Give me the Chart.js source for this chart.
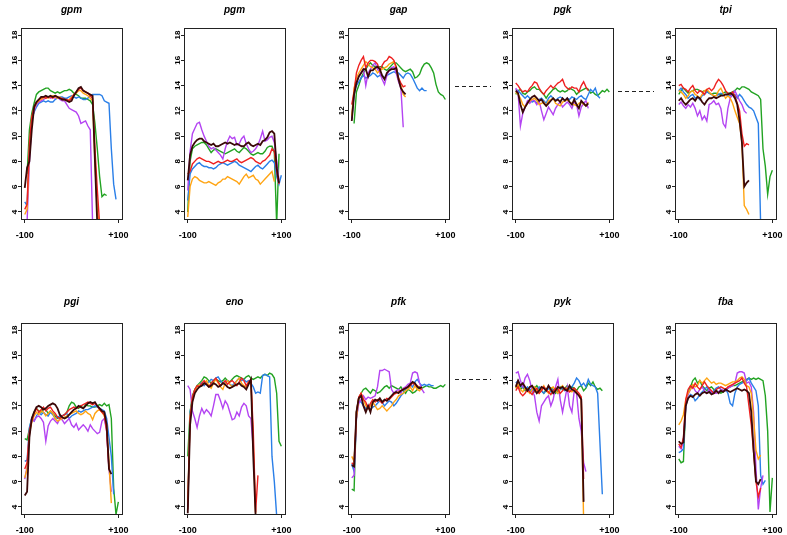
<!DOCTYPE html>
<html lang="en">
<head>
<meta charset="UTF-8">
<title>Profiles around glycolytic genes</title>
<style>
  html, body { margin: 0; padding: 0; background: #fff; overflow: hidden; }
  body { width: 787px; height: 535px; position: relative; }
  canvas { position: absolute; }
</style>
</head>
<body>
<script src="https://cdn.jsdelivr.net/npm/chart.js@4.4.0/dist/chart.umd.min.js"></script>
<script>
// distance from the gene, one value every 5 positions
const xs = [-100, -95, -90, -85, -80, -75, -70, -65, -60, -55, -50, -45, -40, -35, -30, -25, -20, -15, -10, -5,
            0, 5, 10, 15, 20, 25, 30, 35, 40, 45, 50, 55, 60, 65, 70, 75, 80, 85, 90, 95, 100];
const xTicks = [-100, 100];
const yTicks = [4, 6, 8, 10, 12, 14, 16, 18];

// k = black, r = red, o = orange, p = purple, b = blue, g = green
const gpm = {
  k: [5.9, 7.5, 8.0, 10.5, 12.3, 12.7, 12.9, 13.1, 13.1, 13.2, 13.1, 13.2, 13.1, 13.2, 13.1, 13.0, 12.9, 12.9, 12.8, 12.7, 12.8, 13.2, 13.5, 13.8, 13.9, 13.6, 13.5, 13.4, 13.3, 13.2, 8.0, 3.0],
  r: [4.2, 4.6, 9.5, 11.5, 12.3, 12.7, 12.9, 13.0, 13.1, 13.0, 13.1, 13.1, 13.0, 13.2, 13.1, 13.0, 13.0, 12.9, 12.9, 12.8, 13.0, 13.3, 13.5, 13.7, 13.8, 13.6, 13.5, 13.4, 13.2, 13.0, 9.0, 5.8, 3.0],
  o: [3.8, 4.2, 9.0, 11.4, 12.2, 12.6, 12.8, 12.9, 13.0, 13.1, 13.0, 13.1, 13.2, 13.1, 13.0, 13.1, 12.9, 12.9, 12.8, 12.9, 13.1, 13.3, 13.4, 13.6, 13.6, 13.4, 13.3, 13.2, 13.0, 12.8, 8.0, 4.0, 3.0],
  p: [3.0, 3.2, 8.0, 11.2, 12.0, 12.5, 12.7, 12.8, 12.9, 13.0, 13.1, 13.0, 13.1, 13.0, 13.1, 12.9, 12.8, 12.8, 12.5, 12.2, 12.1, 12.0, 11.9, 11.6, 11.0, 11.1, 11.2, 10.8, 10.5, 3.0],
  b: [4.8, 4.5, 9.0, 11.3, 11.9, 12.3, 12.6, 12.7, 12.8, 12.7, 12.8, 12.7, 12.7, 12.9, 13.0, 13.1, 13.1, 13.0, 13.0, 13.1, 13.2, 13.1, 13.0, 13.1, 13.0, 12.9, 12.9, 13.0, 13.2, 13.3, 13.3, 13.3, 13.3, 13.2, 12.8, 12.7, 12.6, 9.0, 6.2, 5.0],
  g: [null, 7.0, 10.5, 11.8, 12.6, 13.3, 13.5, 13.6, 13.7, 13.8, 13.8, 13.6, 13.5, 13.4, 13.5, 13.4, 13.5, 13.6, 13.6, 13.7, 13.6, 13.4, 13.3, 13.2, 13.0, 13.0, 13.0, 12.9, 12.8, 12.5, 11.0, 9.0, 6.8, 5.2, 5.4, 5.3]
};
const pgm = {
  k: [6.5, 8.5, 9.2, 9.5, 9.7, 9.8, 9.8, 9.6, 9.5, 9.4, 9.3, 9.4, 9.2, 9.2, 9.3, 9.4, 9.5, 9.4, 9.5, 9.4, 9.3, 9.4, 9.3, 9.2, 9.2, 9.4, 9.5, 9.3, 9.2, 9.3, 9.4, 9.3, 9.6, 9.7, 9.9, 10.3, 10.4, 10.2, 7.5, 6.3],
  r: [7.0, 7.2, 7.8, 8.0, 8.2, 8.3, 8.2, 8.1, 8.0, 8.0, 7.9, 7.8, 7.9, 8.0, 7.9, 7.9, 8.0, 8.1, 8.0, 8.0, 8.1, 8.2, 8.0, 7.9, 8.0, 8.1, 8.2, 8.3, 8.2, 8.0, 7.9, 7.8, 8.0, 8.1, 8.3, 8.5, 9.0, 8.8, 7.2, 6.2],
  o: [3.6, 6.0, 6.6, 6.8, 6.7, 6.5, 6.4, 6.3, 6.3, 6.4, 6.3, 6.2, 6.1, 6.3, 6.4, 6.6, 6.6, 6.8, 6.7, 6.6, 6.5, 6.4, 6.2, 6.5, 6.8, 7.0, 6.7, 6.8, 6.9, 6.6, 6.5, 6.2, 6.4, 6.6, 6.8, 7.0, 7.2, 6.4],
  p: [5.7, 8.8, 10.2, 10.6, 11.0, 11.1, 10.5, 10.0, 9.6, 9.2, 9.0, 9.1, 8.9, 8.7, 8.5, 8.2, 9.0, 9.6, 10.0, 9.8, 9.9, 9.3, 9.4, 9.8, 10.0, 9.4, 9.0, 8.7, 8.8, 9.0, 9.3, 9.8, 10.4, 9.6, 9.7, 9.9, 10.0, 9.5, 8.0, 6.5],
  b: [4.9, 7.0, 7.4, 7.6, 7.8, 7.9, 7.7, 7.6, 7.6, 7.5, 7.5, 7.4, 7.5, 7.7, 7.8, 7.9, 7.8, 7.7, 7.8, 7.9, 8.0, 7.9, 7.7, 7.6, 7.5, 7.4, 7.3, 7.2, 7.4, 7.6, 7.7, 7.5, 7.4, 7.6, 7.8, 8.0, 8.1, 7.9, 6.8, 6.2, 6.9],
  g: [4.0, 8.0, 9.0, 9.2, 9.3, 9.4, 9.5, 9.5, 9.3, 9.0, 8.7, 8.9, 9.0, 8.9, 8.8, 8.7, 8.6, 8.7, 8.8, 8.9, 9.0, 8.8, 8.7, 8.9, 9.1, 9.0, 8.8, 8.6, 8.5, 8.6, 8.7, 8.6, 8.6, 8.8, 9.1, 9.2, 9.2, 8.7, 3.0, 8.6]
};
const gap = {
  k: [11.2, 13.3, 14.2, 14.7, 15.0, 15.3, 15.3, 14.7, 15.2, 15.2, 15.4, 15.5, 15.3, 14.8, 14.5, 15.0, 15.2, 15.3, 15.3, 15.4, 14.5, 13.8, 13.5, 13.3],
  r: [12.5, 13.5, 15.0, 15.6, 16.0, 16.3, 15.4, 15.8, 16.0, 16.0, 15.9, 15.7, 15.2, 15.6, 15.9, 16.0, 16.3, 16.2, 16.0, 15.5, 14.6, 14.2, 13.9, 14.0],
  o: [11.6, 13.8, 14.6, 15.0, 15.3, 15.6, 15.9, 15.7, 15.5, 15.4, 15.3, 15.0, 15.2, 15.3, 15.4, 15.5, 15.7, 15.8, 15.9, 15.4, 14.5, 14.0, 13.3, 13.1],
  p: [11.4, 13.5, 14.2, 14.8, 15.0, 15.3, 14.0, 15.0, 15.3, 15.6, 15.8, 15.3, 15.0, 14.5, 14.1, 14.8, 15.2, 15.4, 15.5, 15.0, 14.3, 13.8, 10.7],
  b: [11.3, 13.3, 14.0, 14.3, 14.6, 14.8, 14.6, 14.7, 14.8, 15.0, 14.9, 14.7, 14.8, 14.8, 14.6, 14.8, 14.9, 15.0, 15.1, 15.0, 15.0, 14.8, 14.6, 14.9, 15.0, 14.9, 14.6, 14.2, 13.8, 13.6, 13.8, 13.6, 13.6],
  g: [null, 11.0, 13.5, 14.0, 14.6, 15.0, 15.3, 15.6, 15.8, 15.6, 15.5, 15.4, 15.5, 15.5, 15.3, 15.2, 15.4, 15.6, 15.8, 15.8, 15.6, 15.4, 15.2, 15.1, 15.2, 15.3, 15.1, 14.6, 14.7, 14.9, 15.4, 15.7, 15.8, 15.7, 15.4, 15.0, 14.1, 13.5, 13.3, 13.2, 12.9]
};
const pgk = {
  k: [13.6, 13.4, 12.5, 11.9, 12.3, 12.6, 12.9, 13.1, 13.2, 13.0, 12.8, 12.9, 12.6, 12.4, 12.6, 12.8, 13.0, 12.8, 12.9, 12.7, 13.0, 12.8, 13.0, 12.7, 12.5, 12.9, 12.5, 12.2, 12.8, 12.6, 12.4, 12.6],
  r: [14.2, 14.0, 13.7, 13.5, 13.6, 13.5, 13.8, 14.0, 14.3, 14.2, 13.8, 13.5, 13.3, 13.6, 13.8, 14.0, 13.8, 14.0, 14.2, 14.3, 14.5, 14.0, 13.8, 13.7, 13.9, 13.8, 13.8, 13.5, 14.0, 14.3, 13.9, 13.6],
  o: [13.5, 13.3, 13.0, 12.5, 12.3, 12.6, 12.8, 12.9, 13.0, 12.8, 12.5, 12.6, 12.7, 12.4, 12.8, 12.9, 13.0, 12.6, 12.5, 12.4, 12.7, 12.8, 12.9, 12.7, 12.6, 12.5, 12.4, 12.6, 12.7, 12.5, 12.4, 12.7],
  p: [13.8, 13.4, 10.8, 11.8, 12.3, 12.8, 12.6, 12.9, 12.8, 12.5, 12.8, 12.0, 11.3, 11.8, 12.3, 12.0, 11.7, 12.2, 12.5, 12.7, 12.3, 12.5, 12.7, 12.5, 12.2, 12.7, 12.5, 11.6, 12.3, 12.6, 12.8, 12.2],
  b: [13.7, 13.6, 13.4, 13.2, 13.0, 13.2, 13.0, 12.7, 12.8, 12.6, 12.9, 13.0, 12.8, 12.6, 13.0, 13.2, 13.0, 12.8, 13.0, 13.1, 13.0, 12.8, 13.0, 12.9, 13.1, 13.0, 12.9, 13.1, 13.2, 13.0, 12.9, 13.3, 13.7, 13.5, 13.8, 13.2, 13.0],
  g: [13.3, 13.6, 13.7, 13.4, 13.3, 13.5, 13.6, 13.8, 13.9, 13.7, 13.7, 13.5, 13.3, 13.0, 13.3, 13.5, 13.7, 13.8, 13.6, 13.5, 13.6, 13.5, 13.6, 13.8, 13.7, 13.6, 13.3, 13.5, 13.6, 13.7, 13.8, 13.7, 13.4, 13.5, 13.3, 13.2, 13.4, 13.6, 13.5, 13.7, 13.5]
};
const tpi = {
  k: [12.8, 13.0, 12.7, 12.5, 12.7, 12.9, 13.0, 12.8, 13.1, 13.0, 12.7, 12.5, 12.8, 13.0, 13.0, 13.1, 13.0, 13.1, 13.2, 13.2, 13.3, 13.3, 13.4, 13.3, 13.0, 12.5, 11.2, 9.5, 6.0, 6.3, 6.5],
  r: [14.0, 14.1, 13.8, 13.7, 13.5, 13.8, 14.0, 13.6, 13.4, 13.6, 13.5, 13.3, 13.7, 13.8, 13.6, 13.8, 14.2, 14.5, 14.3, 14.0, 13.6, 13.4, 13.3, 13.5, 13.2, 12.6, 12.0, 10.2, 9.2, 9.4, 9.3],
  o: [13.6, 13.5, 13.3, 13.0, 13.2, 13.5, 13.6, 13.3, 13.2, 13.0, 13.3, 13.6, 13.7, 13.5, 13.3, 13.2, 13.2, 13.6, 13.8, 13.4, 13.0, 13.2, 13.0, 12.6, 12.0, 11.5, 11.0, 9.5, 4.5, 4.2, 3.8],
  p: [12.5, 12.7, 12.4, 12.2, 12.5, 12.3, 12.6, 12.2, 11.6, 12.0, 11.3, 11.6, 11.2, 12.5, 12.6, 12.8, 12.5, 12.6, 12.2, 11.0, 10.7, 12.2, 13.0, 13.3, 13.6, 13.2, 12.8, 12.5, 12.0, 11.8],
  b: [13.6, 13.8, 13.5, 13.3, 13.0, 13.2, 13.3, 13.0, 13.1, 12.9, 13.2, 13.3, 13.5, 13.4, 13.3, 13.2, 13.2, 13.3, 13.4, 13.3, 13.3, 13.2, 13.2, 13.3, 13.3, 13.0, 13.3, 13.1, 12.8, 12.5, 12.3, 12.2, 12.0, 11.5, 11.0, 3.0],
  g: [13.3, 13.6, 13.8, 13.6, 13.4, 13.5, 13.6, 13.7, 13.7, 13.6, 13.5, 13.6, 13.6, 13.4, 13.3, 13.4, 13.4, 13.3, 13.3, 13.4, 13.5, 13.4, 13.4, 13.5, 13.6, 13.8, 13.7, 13.9, 13.9, 13.8, 13.7, 13.5, 13.4, 13.3, 13.2, 12.9, 9.0, 7.6, 5.4, 6.8, 7.3]
};
const pgi = {
  k: [4.9, 5.2, 9.5, 11.0, 11.5, 11.9, 12.0, 11.9, 11.7, 11.8, 12.0, 12.1, 12.2, 12.1, 11.8, 11.3, 11.1, 11.0, 11.1, 11.3, 11.5, 11.7, 11.8, 12.0, 11.9, 11.8, 12.0, 12.2, 12.3, 12.2, 12.3, 12.0, 11.8, 11.6, 11.5, 10.5, 7.0, 6.6],
  r: [7.0, 7.5, 10.0, 10.8, 11.4, 11.8, 11.5, 11.7, 11.9, 11.6, 11.8, 11.9, 11.6, 11.4, 11.1, 11.0, 11.2, 11.3, 11.5, 11.7, 11.8, 11.9, 11.8, 11.9, 12.0, 12.1, 12.2, 12.3, 12.2, 12.1, 12.2, 12.0, 11.7, 11.5, 11.3, 10.0, 7.0],
  o: [6.3, 7.0, 9.8, 10.7, 11.2, 11.5, 11.3, 11.6, 11.5, 11.2, 11.4, 11.6, 11.4, 11.0, 10.8, 10.9, 11.0, 11.1, 11.2, 11.3, 11.4, 11.5, 11.6, 11.4, 11.3, 11.4, 11.6, 11.4, 11.3, 10.9, 11.4, 11.6, 11.7, 11.5, 11.2, 10.5, 7.5, 4.3],
  p: [6.2, 7.2, 9.8, 11.0, 10.8, 11.1, 11.2, 11.0, 10.7, 9.2, 10.4, 10.8, 11.0, 10.8, 10.6, 11.0, 10.9, 10.6, 10.8, 11.0, 10.5, 10.3, 10.6, 10.1, 10.3, 10.5, 10.3, 10.0, 10.5, 10.2, 10.0, 9.8, 9.9, 10.8, 11.0, 10.0, 7.0, 5.2],
  b: [7.6, 7.7, 10.3, 11.0, 10.8, 11.2, 11.5, 11.3, 11.5, 11.3, 11.2, 11.5, 11.3, 11.0, 11.1, 11.2, 11.2, 11.3, 11.4, 11.0, 11.2, 11.3, 11.4, 11.6, 11.5, 11.6, 11.7, 11.7, 11.8, 11.9, 12.0, 11.9, 11.8, 11.7, 11.6, 11.0, 9.5, 8.0, 5.0],
  g: [9.4, 9.3, 10.2, 11.0, 11.5, 11.8, 11.6, 11.5, 11.8, 11.7, 11.4, 11.6, 11.4, 11.2, 11.0, 11.1, 11.2, 11.3, 11.5, 12.0, 12.3, 12.2, 11.9, 11.8, 12.0, 11.8, 12.1, 12.0, 12.0, 11.9, 11.9, 12.0, 12.1, 12.0, 12.2, 12.0, 12.1, 11.0, 5.5, 3.4, 4.4]
};
const eno = {
  k: [3.5, 10.5, 12.3, 13.0, 13.3, 13.5, 13.6, 13.8, 13.7, 13.5, 13.6, 13.8, 13.7, 13.5, 13.6, 13.8, 13.7, 13.5, 13.4, 13.5, 13.6, 13.7, 13.8, 13.6, 13.5, 13.3, 13.7, 14.1, 8.0, 3.3],
  r: [3.8, 11.0, 12.7, 13.3, 13.6, 13.5, 13.8, 14.0, 13.7, 13.5, 13.8, 14.0, 14.2, 13.9, 13.6, 13.8, 14.0, 13.7, 13.9, 14.0, 13.8, 13.6, 13.9, 14.2, 14.0, 13.6, 13.9, 14.1, 10.0, 3.6, 6.5],
  o: [4.4, 11.2, 12.6, 13.2, 13.5, 13.7, 13.6, 13.8, 14.0, 13.6, 13.4, 13.8, 14.1, 13.8, 13.5, 13.3, 13.8, 14.0, 13.7, 13.5, 13.7, 14.0, 14.2, 13.8, 13.6, 13.5, 13.9, 14.0, 9.0, 3.5],
  p: [13.6, 13.3, 11.6, 11.0, 10.3, 11.2, 11.8, 11.4, 11.7, 11.5, 11.2, 12.0, 12.9, 12.9, 12.4, 11.8, 12.4, 12.1, 11.5, 10.9, 11.0, 11.5, 11.2, 11.9, 12.2, 12.0, 11.2, 11.0, 8.6],
  b: [4.0, 11.5, 12.5, 13.2, 13.5, 13.7, 13.8, 13.6, 13.8, 13.9, 14.1, 14.0, 14.2, 14.3, 14.0, 13.8, 13.9, 14.0, 13.7, 13.6, 13.8, 14.0, 14.2, 14.0, 14.1, 13.9, 14.0, 13.8, 13.5, 13.0, 13.1, 13.0, 14.4, 14.5, 14.4, 14.3, 8.0, 6.0, 3.3],
  g: [8.0, 11.5, 12.8, 13.3, 13.6, 13.8, 14.0, 14.3, 14.2, 14.0, 13.8, 14.0, 14.1, 14.0, 13.9, 14.0, 14.2, 14.0, 13.9, 14.1, 14.3, 14.4, 14.3, 14.2, 14.1, 14.3, 14.4, 14.2, 14.1, 14.2, 14.3, 14.2, 14.4, 14.5, 14.4, 14.6, 14.5, 14.2, 13.0, 9.2, 8.8]
};
const pfk = {
  k: [7.3, 7.2, 11.5, 12.6, 12.8, 12.0, 11.5, 12.0, 11.5, 12.3, 12.5, 12.4, 12.6, 12.3, 12.5, 12.4, 12.6, 12.8, 13.0, 13.1, 13.0, 13.2, 13.3, 13.4, 13.5, 13.7, 13.9, 13.8, 13.5, 13.4, 13.5],
  r: [7.5, 7.3, 11.5, 12.7, 13.0, 12.5, 12.3, 11.8, 12.2, 12.5, 12.3, 12.5, 12.4, 12.2, 12.4, 12.6, 12.5, 12.7, 12.9, 13.0, 13.1, 13.2, 13.3, 13.4, 13.5, 13.6, 13.8, 13.7, 13.6, 13.4, 13.3],
  o: [8.0, 7.6, 11.0, 12.6, 13.0, 12.5, 12.0, 11.8, 12.0, 12.3, 12.0, 11.7, 11.8, 12.0, 11.8, 11.6, 11.8, 12.0, 12.3, 12.5, 12.8, 12.9, 13.0, 13.2, 13.3, 13.5, 13.2, 13.6, 13.3, 13.2, 13.5],
  p: [6.3, 6.5, 11.0, 12.2, 12.5, 12.8, 12.5, 12.7, 12.6, 12.7, 12.8, 13.5, 14.8, 14.8, 14.9, 14.8, 14.7, 13.3, 13.0, 13.2, 13.3, 13.0, 13.4, 13.5, 13.7, 13.8, 14.6, 14.7, 14.6, 13.8, 13.3, 13.0],
  b: [7.4, 6.8, 11.0, 12.4, 12.3, 12.0, 11.8, 12.0, 11.7, 11.9, 12.0, 12.2, 12.4, 12.3, 12.0, 12.2, 12.4, 12.3, 12.0, 12.2, 12.5, 12.8, 13.0, 13.3, 13.5, 13.7, 13.5, 13.9, 14.1, 13.8, 13.6, 13.7, 13.6, 13.7, 13.6, 13.6],
  g: [5.4, 5.3, 11.5, 12.6, 13.0, 13.3, 13.4, 13.2, 13.0, 13.3, 13.2, 13.0, 13.1, 13.3, 13.5, 13.6, 13.4, 13.6, 13.5, 13.4, 13.3, 13.5, 13.2, 13.0, 13.3, 13.2, 13.0, 13.1, 13.3, 13.5, 13.4, 13.5, 13.6, 13.5, 13.5, 13.4, 13.4, 13.5, 13.6, 13.5, 13.7]
};
const pyk = {
  k: [13.5, 14.0, 13.6, 13.8, 13.5, 13.2, 13.5, 13.6, 13.3, 13.0, 13.2, 13.5, 13.4, 13.2, 13.6, 13.3, 13.0, 13.2, 13.5, 13.4, 13.5, 13.3, 13.2, 13.6, 13.3, 13.2, 13.0, 12.8, 12.5, 4.4],
  r: [13.2, 13.5, 13.0, 12.8, 13.0, 13.3, 13.1, 12.9, 13.2, 13.4, 13.0, 13.2, 13.5, 13.3, 13.1, 12.9, 13.2, 13.4, 13.3, 13.0, 13.2, 13.4, 13.3, 13.1, 13.3, 13.4, 13.2, 13.0, 12.7, 6.2],
  o: [13.4, 13.7, 13.3, 13.1, 13.4, 13.2, 13.0, 13.3, 13.5, 13.2, 13.0, 13.3, 13.6, 13.2, 13.0, 13.4, 13.5, 13.2, 13.0, 13.4, 13.6, 13.3, 13.4, 13.2, 13.1, 13.3, 13.0, 12.9, 12.6, 3.0],
  p: [14.6, 14.7, 14.0, 13.5, 14.2, 14.5, 14.0, 13.2, 12.8, 11.5, 10.8, 12.0, 12.3, 12.6, 12.8, 12.0, 12.5, 13.5, 14.1, 12.5, 11.5, 12.5, 13.5, 12.0, 11.5, 13.2, 13.0, 11.0, 10.0, 7.5, 6.8],
  b: [13.8, 14.0, 13.5, 13.6, 13.3, 13.5, 13.2, 13.4, 13.1, 13.3, 13.5, 13.2, 13.0, 13.2, 13.4, 13.1, 13.3, 13.2, 13.0, 13.3, 13.4, 13.2, 13.4, 13.3, 13.5, 13.8, 14.2, 14.0, 13.6, 13.8, 13.5, 14.1, 13.7, 13.6, 13.5, 13.0, 9.0, 5.0],
  g: [13.4, 13.6, 13.3, 13.5, 13.2, 13.4, 13.3, 13.1, 13.4, 13.6, 13.3, 13.2, 13.0, 13.3, 13.5, 13.4, 13.3, 13.0, 13.2, 13.5, 13.3, 13.4, 13.6, 13.3, 13.5, 13.4, 13.2, 13.5, 13.6, 13.2, 13.4, 13.8, 13.6, 13.9, 13.5, 13.3, 13.4, 13.2]
};
const fba = {
  k: [9.2, 9.0, 9.1, 12.0, 12.6, 12.8, 12.7, 12.9, 13.0, 12.8, 13.0, 13.1, 13.0, 13.1, 12.9, 13.0, 13.2, 13.0, 13.2, 13.1, 13.3, 13.2, 13.1, 13.2, 13.3, 13.4, 13.3, 13.2, 13.3, 13.2, 13.0, 11.5, 8.5, 6.0, 5.8, 6.2],
  r: [9.0, 8.7, 9.5, 12.5, 13.3, 13.6, 13.4, 13.8, 13.5, 13.3, 13.6, 13.9, 13.6, 13.4, 13.2, 13.0, 13.3, 13.4, 13.5, 13.4, 13.3, 13.5, 13.6, 13.7, 13.8, 13.9, 14.0, 14.2, 13.8, 13.5, 12.0, 10.5, 8.3, 6.0, 4.8, 5.5],
  o: [10.5, 10.8, 11.3, 12.5, 13.0, 13.3, 13.7, 13.5, 13.6, 14.0, 13.8, 14.0, 14.2, 14.0, 13.8, 13.9, 13.7, 13.8, 13.8, 13.7, 13.6, 13.7, 13.8, 13.9, 13.9, 14.0, 14.2, 14.3, 14.1, 13.6, 13.5, 13.0, 11.0, 8.5, 7.8, 8.1],
  p: [8.8, 8.6, 9.2, 12.0, 12.9, 13.3, 13.6, 13.2, 13.0, 13.3, 13.5, 13.2, 13.0, 13.3, 13.1, 13.0, 13.0, 13.1, 13.3, 13.2, 13.2, 13.4, 13.5, 13.6, 13.8, 14.6, 14.7, 14.7, 14.6, 13.8, 13.9, 13.5, 11.5, 7.0, 3.8, 5.5, 6.5],
  b: [8.3, 8.4, 8.6, 12.0, 12.6, 12.9, 12.8, 12.4, 12.6, 12.9, 13.1, 13.3, 13.5, 13.2, 13.0, 13.2, 13.4, 13.5, 13.3, 13.2, 13.3, 13.0, 12.2, 12.0, 13.0, 13.5, 13.7, 13.8, 13.9, 14.0, 14.2, 13.8, 13.5, 13.2, 12.0, 6.5, 5.8, 6.1],
  g: [7.8, 7.5, 7.6, 12.3, 13.0, 13.5, 14.0, 14.2, 13.8, 14.0, 13.6, 13.4, 13.2, 13.4, 13.5, 13.3, 13.2, 13.1, 13.0, 13.1, 13.2, 13.4, 13.5, 13.6, 13.6, 13.7, 13.8, 13.9, 14.0, 14.1, 14.2, 14.1, 14.2, 14.1, 14.2, 14.1, 14.0, 12.8, 10.0, 3.6, 6.3]
};

const panels = [
  ['gpm', gpm], ['pgm', pgm], ['gap', gap], ['pgk', pgk], ['tpi', tpi],
  ['pgi', pgi], ['eno', eno], ['pfk', pfk], ['pyk', pyk], ['fba', fba]
];
// dashed link level drawn to the left of a panel
const links = { pgk: 14, tpi: 13.6, pyk: 14.1 };

// drawing order: first dataset ends up on top
const series = [
  ['k', '#3a0808', 1.8],
  ['r', '#ee2020', 1.4],
  ['o', '#ffa412', 1.4],
  ['p', '#b444f2', 1.4],
  ['b', '#2a7fe8', 1.4],
  ['g', '#22a322', 1.4]
];

const FONT = "'Liberation Sans', Arial, Helvetica, sans-serif";
const boxLefts = [21, 184, 348, 512, 675];
const boxTops = [28, 323];
const titlePads = [4, 1];
const BOX_W = 105, BOX_H = 191;
const PAD_L = 44, Y_W = 22, Y2_W = 10, TOP_H = 28, BOT_H = 24;

const linkPlugin = {
  id: 'link',
  afterDraw(chart, args, opts) {
    if (opts.level == null) return;
    const { ctx, chartArea } = chart;
    const y = Math.round(chart.scales.y.getPixelForValue(opts.level)) + 0.5;
    ctx.save();
    ctx.strokeStyle = '#222';
    ctx.lineWidth = 1;
    ctx.setLineDash([4, 3]);
    ctx.beginPath();
    ctx.moveTo(chartArea.left - 57, y);
    ctx.lineTo(chartArea.left - 21, y);
    ctx.stroke();
    ctx.restore();
  }
};

panels.forEach(([name, d], idx) => {
  const col = idx % 5, row = Math.floor(idx / 5);
  const cv = document.createElement('canvas');
  cv.width = PAD_L + Y_W + BOX_W + Y2_W;
  cv.height = TOP_H + BOX_H + BOT_H;
  cv.style.left = (boxLefts[col] - PAD_L - Y_W) + 'px';
  cv.style.top = (boxTops[row] - TOP_H) + 'px';
  document.body.appendChild(cv);

  const datasets = series.map(([key, color, w]) => ({
    data: d[key].map((v, i) => ({ x: xs[i], y: v })).filter(pt => pt.y !== null),
    borderColor: color,
    borderWidth: w,
    pointRadius: 0,
    tension: 0,
    fill: false,
    xAxisID: 'x',
    yAxisID: 'y'
  }));

  new Chart(cv, {
    type: 'line',
    data: { datasets },
    plugins: [linkPlugin],
    options: {
      responsive: false,
      animation: false,
      devicePixelRatio: 1,
      layout: { padding: { left: PAD_L, right: 0, top: 0, bottom: 0 } },
      plugins: {
        legend: { display: false },
        tooltip: { enabled: false },
        link: { level: links[name] }
      },
      scales: {
        x: {
          type: 'linear', position: 'bottom', min: -108, max: 108,
          afterBuildTicks: s => { s.ticks = xTicks.map(v => ({ value: v })); },
          afterFit: s => { s.height = BOT_H; },
          ticks: {
            autoSkip: false, maxRotation: 0, padding: 7, color: '#000',
            font: { family: FONT, size: 9, weight: 'bold' },
            callback: v => (v > 0 ? '+' + v : String(v))
          },
          grid: { display: true, drawOnChartArea: false, tickLength: 4, color: '#222' },
          border: { color: '#222', width: 1 }
        },
        x2: {
          type: 'linear', position: 'top', min: -108, max: 108,
          afterFit: s => { s.height = TOP_H; },
          ticks: { display: false },
          grid: { display: false },
          border: { color: '#222', width: 1 },
          title: {
            display: true, text: name, color: '#000',
            padding: { top: titlePads[row], bottom: 0 },
            font: { family: FONT, size: 10, weight: 'bold', style: 'italic' }
          }
        },
        y: {
          type: 'linear', position: 'left', min: 3.44, max: 18.56,
          afterBuildTicks: s => { s.ticks = yTicks.map(v => ({ value: v })); },
          afterFit: s => { s.width = Y_W; },
          ticks: {
            autoSkip: false, minRotation: 90, maxRotation: 90, crossAlign: 'center',
            padding: -1, color: '#000',
            font: { family: FONT, size: 8, weight: 'bold' }
          },
          grid: { display: true, drawOnChartArea: false, tickLength: 3, color: '#222' },
          border: { color: '#222', width: 1 }
        },
        y2: {
          type: 'linear', position: 'right', min: 3.44, max: 18.56,
          afterFit: s => { s.width = Y2_W; },
          ticks: { display: false },
          grid: { display: false },
          border: { color: '#222', width: 1 }
        }
      }
    }
  });
});
</script>
</body>
</html>
